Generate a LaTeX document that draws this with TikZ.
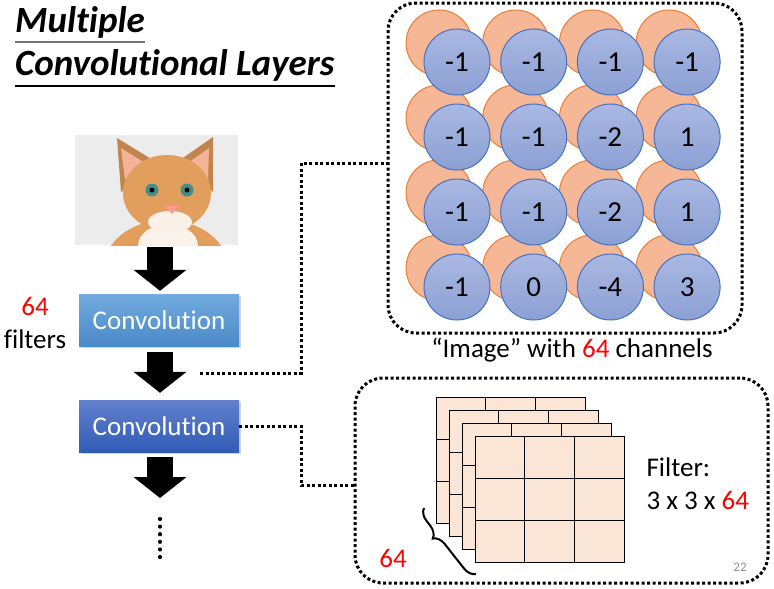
\documentclass[tikz,border=0pt]{standalone}
\usepackage{fontspec}
\setmainfont{Carlito}[Ligatures=NoCommon]
\usepackage{tikz}
\usetikzlibrary{arrows.meta,shadows,decorations.pathreplacing}
\definecolor{convtopA}{RGB}{114,170,222}
\definecolor{convbotA}{RGB}{74,138,200}
\definecolor{convtopB}{RGB}{98,128,204}
\definecolor{convbotB}{RGB}{48,92,182}
\definecolor{backfill}{RGB}{245,183,150}
\definecolor{backline}{RGB}{237,125,49}
\definecolor{fronttop}{RGB}{170,184,226}
\definecolor{frontbot}{RGB}{140,160,212}
\definecolor{frontline}{RGB}{68,114,196}
\definecolor{filtfill}{RGB}{251,229,214}
\definecolor{catbg}{RGB}{236,236,236}
\definecolor{catfur}{RGB}{226,158,92}
\definecolor{cateye}{RGB}{70,140,135}

\begin{document}
\begin{tikzpicture}[x=1pt,y=-1pt,
  title/.style={font=\fontsize{37}{41}\selectfont\bfseries\itshape, inner sep=0pt, anchor=base west},
  txt/.style={font=\fontsize{27}{33}\selectfont},
  convbox/.style={txt, text=white, minimum width=160pt, minimum height=52pt, inner sep=0pt,
    drop shadow={opacity=0.35, shadow xshift=1.5pt, shadow yshift=-1.5pt}},
  bigarrow/.style={line width=26pt, -{Triangle[width=52pt,length=21pt]}},
  conn/.style={line width=3pt, dash pattern=on 3pt off 2.5pt},
  dotbox/.style={conn, rounded corners=28pt, inner sep=0pt},
  backcirc/.style={circle, minimum size=66pt, inner sep=0pt, fill=backfill, draw=backline, line width=1pt},
  frontcirc/.style={circle, minimum size=66pt, inner sep=0pt, font=\fontsize{29}{33}\selectfont, top color=fronttop, bottom color=frontbot, draw=frontline, line width=1pt},
  grid/.style={fill=filtfill, draw=black, line width=1pt}]
\useasboundingbox (0,0) rectangle (774,589);

\node[title] (tA) at (15,32) {Multiple};
\node[title] (tB) at (15,75) {Convolutional Layers};
\draw[line width=2pt, black!55] ([yshift=-10pt]tA.base west) -- ([yshift=-10pt]tA.base east);
\draw[line width=2pt] ([yshift=-11pt]tB.base west) -- ([yshift=-11pt]tB.base east);

\node[minimum width=163pt, minimum height=110pt, inner sep=0pt, fill=catbg] (cat) at (156.5,190) {};
\begin{scope}
  \clip (cat.south west) rectangle (cat.north east);
  \fill[catfur] (166,268) ellipse (62pt and 48pt);
  \fill[white!88!catfur] (168,246) ellipse (30pt and 22pt);
  \fill[catfur!85!black] (121,192) -- (117,138) -- (153,160) -- cycle;
  \fill[catfur!85!black] (180,160) -- (213,137) -- (213,192) -- cycle;
  \fill[pink!60!catfur] (125,180) -- (121,148) -- (145,163) -- cycle;
  \fill[pink!60!catfur] (188,163) -- (209,148) -- (208,180) -- cycle;
  \fill[catfur] (167,193) ellipse (44pt and 38pt);
  \fill[white!85!catfur] (170,222) ellipse (22pt and 11pt);
  \fill[cateye] (152,190) circle (6.5pt);
  \fill[cateye] (187,190) circle (6.5pt);
  \fill[black] (152,190) circle (2.5pt);
  \fill[black] (187,190) circle (2.5pt);
  \fill[pink!80!red] (165,206) -- (179,206) -- (172,214) -- cycle;
\end{scope}

\node[convbox, top color=convtopA, bottom color=convbotA] (convA) at (159,320) {Convolution};
\node[convbox, top color=convtopB, bottom color=convbotB] (convB) at (159,426) {Convolution};
\node[txt, align=center] (nfilt) at (35,323) {\textcolor{red}{64}\\filters};
\coordinate (dtop) at (160,519);
\coordinate (dbot) at (160,557);

\draw[bigarrow, shorten <=2pt, shorten >=3pt] (cat.south -| dtop) -- (convA.north -| dtop);
\draw[bigarrow, shorten <=6pt, shorten >=7pt] (convA.south -| dtop) -- (convB.north -| dtop);
\draw[bigarrow, shorten <=5pt, shorten >=21pt] (convB.south -| dtop) -- (dtop);
\draw[line width=4.2pt, line cap=round, dash pattern=on 0pt off 7.6pt] (dtop) -- (dbot);

\node[dotbox, draw, minimum width=354pt, minimum height=330pt] (img) at (565,168) {};
\node[dotbox, draw, minimum width=413pt, minimum height=205pt] (filt) at (561.5,480.5) {};
\coordinate (cA) at (200,373);
\draw[conn] (cA) -- ++(101,0) |- ([yshift=5pt]img.west);
\draw[conn] (convB.east) -- ++(62,0) |- ([yshift=-4.5pt]filt.west);

\foreach \r in {0,...,3}
  \foreach \c in {0,...,3}
    \node[backcirc] at (439+76.7*\c,43+75*\r) {};
\foreach \v [count=\i from 0] in {-1,-1,-1,-1,-1,-1,-2,1,-1,-1,-2,1,-1,0,-4,3} {
  \pgfmathsetmacro\cx{457+76.7*mod(\i,4)}
  \pgfmathsetmacro\cy{62+75*floor(\i/4)}
  \node[frontcirc] (v\i) at (\cx,\cy) {\v};
}
\node[txt] (cap) at (572,350) {“Image” with \textcolor{red}{64} channels};

\foreach \k in {0,...,3} {
  \begin{scope}[shift={(436+13*\k,397+13*\k)}]
    \path[grid] (0,0) rectangle (149,126);
    \foreach \j in {1,2} {
      \draw[line width=1pt] (49.67*\j,0) -- (49.67*\j,126);
      \draw[line width=1pt] (0,42*\j) -- (149,42*\j);
    }
  \end{scope}
}
\draw[line width=2pt, decorate, decoration={brace, mirror, amplitude=12pt, aspect=0.35}] (424,508) -- (476,574);
\node[txt, text=red] (nch) at (393,558) {64};
\node[txt, align=left, anchor=west] (ftxt) at (643,484) {Filter:\\3 x 3 x \textcolor{red}{64}};
\node[font=\fontsize{13}{15}\selectfont, text=black!45] (pg) at (740,567) {22};
\end{tikzpicture}
\end{document}
